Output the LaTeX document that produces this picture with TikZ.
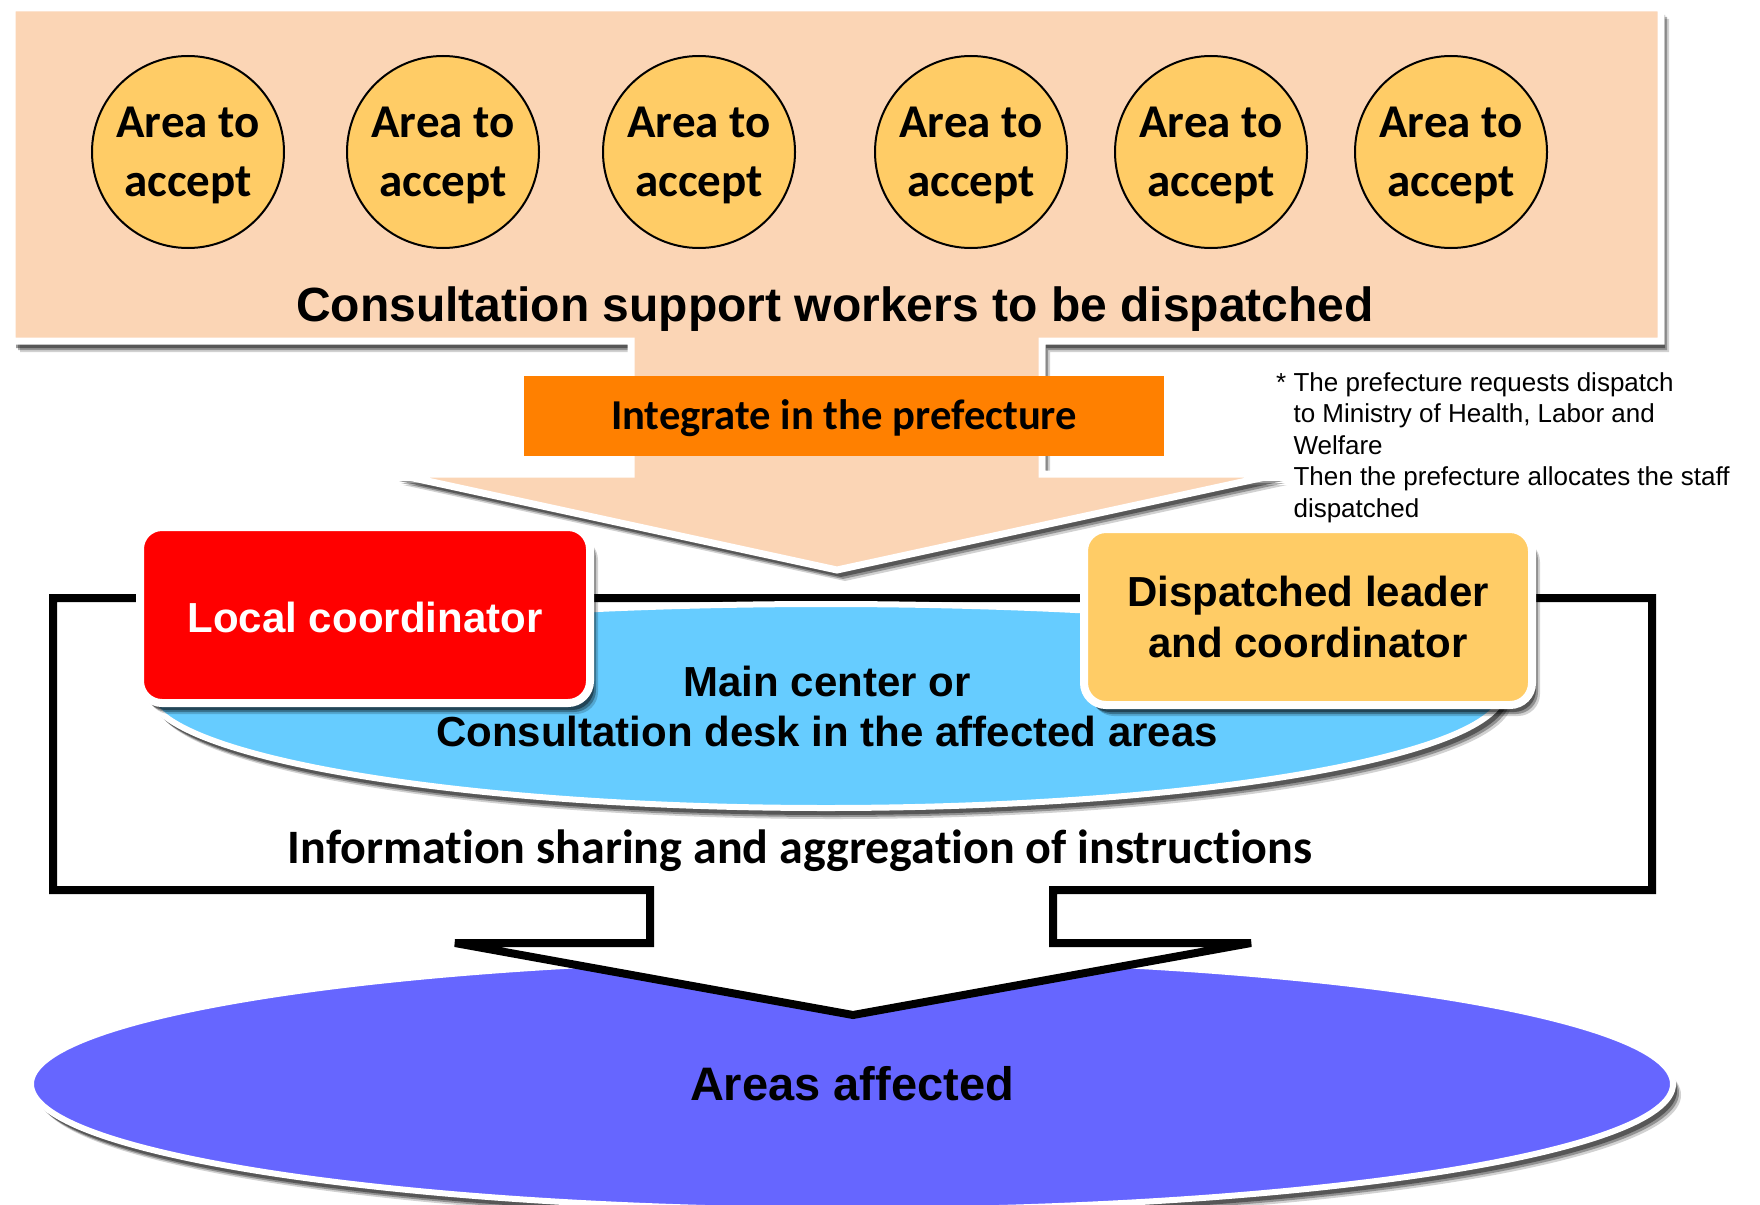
\documentclass[tikz,border=0pt]{standalone}
\usepackage{fontspec}
\setmainfont{Liberation Sans}
\newfontfamily\calib[Ligatures={NoCommon}]{Carlito}
\usetikzlibrary{shadows,shapes.geometric}
\definecolor{peach}{HTML}{FBD5B5}
\definecolor{orng}{HTML}{FF8000}
\definecolor{gold}{HTML}{FFCC66}
\definecolor{sky}{HTML}{66CCFF}
\definecolor{areablue}{HTML}{6666FF}
\tikzset{
  shad/.style={drop shadow={shadow xshift=8pt, shadow yshift=-11pt, fill=black, opacity=0.18},
               drop shadow={shadow xshift=6pt, shadow yshift=-9pt, fill=black, opacity=0.3},
               drop shadow={shadow xshift=4pt, shadow yshift=-7pt, fill=black, opacity=0.4}},
  areacirc/.style={circle, draw=black, line width=2pt, fill=gold, minimum size=192pt, inner sep=0pt},
  areatext/.style={inner sep=0pt, align=center, font=\calib\bfseries\fontsize{47}{59}\selectfont},
  rbox/.style={rounded corners=22pt, draw=white, line width=8pt, shad, minimum width=450pt,
     minimum height=176pt, inner sep=0pt, align=center},
  arialb/.style={font=\bfseries\fontsize{42}{50}\selectfont},
  calb/.style={font=\calib\bfseries\fontsize{48}{57}\selectfont},
}
\begin{document}
\begin{tikzpicture}[x=1pt,y=-1pt]
\useasboundingbox[fill=white] (0,0) rectangle (1760,1204);

% peach block arrow
\draw[white, line width=7pt, fill=peach, shad, line join=miter]
  (12,8) -- (1661,8) -- (1661,341) -- (1042,341) -- (1042,474) -- (1279,474)
  -- (837,570) -- (395,474) -- (631,474) -- (631,341) -- (12,341) -- cycle;

% integrate box
\node[fill=orng, minimum width=640pt, minimum height=80pt, inner sep=0pt,
      text height=27pt, text depth=0pt,
      font=\calib\bfseries\fontsize{42.6}{50}\selectfont] (integ) at (844,416) {Integrate in the prefecture};

% circles
\foreach \n/\cx in {1/188,2/443,3/699,4/971,5/1211,6/1451}{
  \node[areacirc] (c\n) at (\cx,152) {};
  \node[areatext] (t\n) at (\cx,155.5) {Area to\\accept};
}
\node[anchor=base, font=\bfseries\fontsize{48}{56}\selectfont] (workers) at (835,321)
  {Consultation support workers to be dispatched};

% areas affected ellipse
\node[ellipse, minimum width=1642pt, minimum height=252pt, fill=areablue, draw=white,
      line width=6pt, shad, inner sep=0pt, text depth=2pt,
      font=\bfseries\fontsize{47}{56}\selectfont] (areas) at (852,1084) {Areas affected};

% frame with down arrow
\draw[line width=8pt, fill=white, line join=miter]
  (53,598) -- (1652,598) -- (1652,890) -- (1053,890) -- (1053,943) -- (1251,943)
  -- (853,1015) -- (455,943) -- (650,943) -- (650,890) -- (53,890) -- cycle;

% light blue lens
\draw[white, line width=6pt, fill=sky, shad]
  (148,690) arc[start angle=180, end angle=0, x radius=678pt, y radius=86pt]
  arc[start angle=0, end angle=-180, x radius=678pt, y radius=118pt] -- cycle;
\node[arialb, align=center, inner sep=0pt] (main) at (827,706)
  {Main center or\\Consultation desk in the affected areas};

% boxes
\node[rbox, fill=red, text=white, arialb, text height=35pt, text depth=0pt] (local) at (365,615) {Local coordinator};
\node[rbox, fill=gold, minimum width=448pt, font=\bfseries\fontsize{42}{51}\selectfont] (leader) at (1308,617)
  {Dispatched leader\\and coordinator};

% info text
\node[anchor=base, calb] (info) at (800,863) {Information sharing and aggregation of instructions};

% footnote
\node[anchor=north west, inner sep=0pt, align=left, font=\fontsize{26}{31.5}\selectfont] (note) at (1276,372)
  {* The prefecture requests dispatch\\
   \phantom{* }to Ministry of Health, Labor and\\
   \phantom{* }Welfare\\
   \phantom{* }Then the prefecture allocates the staff\\
   \phantom{* }dispatched};
\end{tikzpicture}
\end{document}
